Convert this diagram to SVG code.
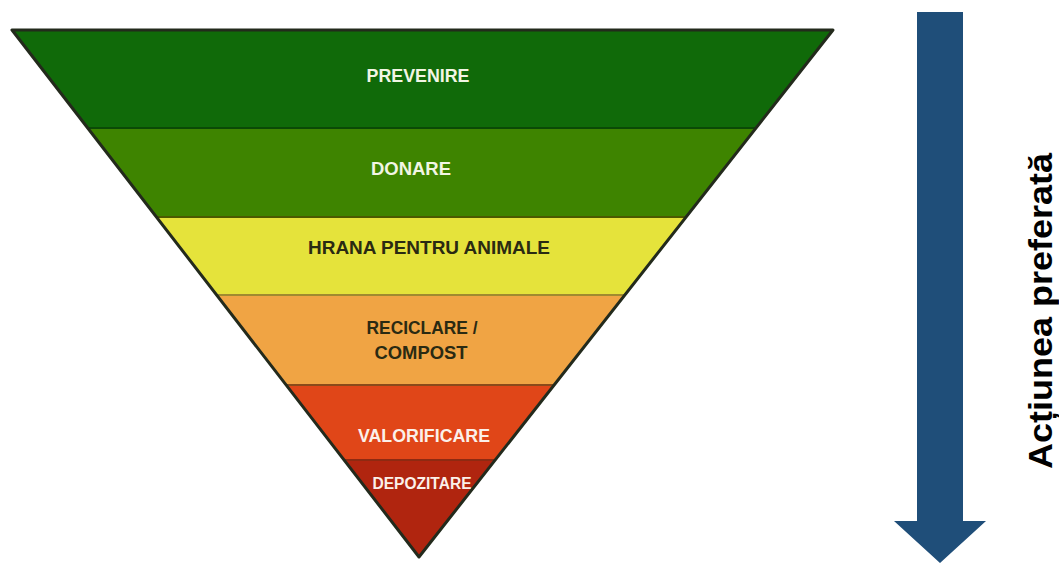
<svg xmlns="http://www.w3.org/2000/svg" width="1059" height="563" viewBox="0 0 1059 563">
  <style>
    .lbl { font-family: "Liberation Sans", Arial, sans-serif; font-weight: bold; font-size: 19px; text-anchor: middle; }
    .light { fill: #F2F6E4; }
    .dark { fill: #2A2A12; }
    .white { fill: #FBF0EA; }
    .sep { stroke-width: 2; fill: none; }
  </style>
  <rect width="1059" height="563" fill="#FFFFFF"/>
  <g id="pyramid">
    <g id="prevenire">
      <polygon points="12,30 833,30 756,128 88,128" fill="#106A09"/>
      <text class="lbl light" x="418" y="82" textLength="103" lengthAdjust="spacingAndGlyphs">PREVENIRE</text>
    </g>
    <g id="donare">
      <polygon points="88,128 756,128 686,217 157,217" fill="#3E8400"/>
      <text class="lbl light" x="411" y="175" textLength="80" lengthAdjust="spacingAndGlyphs">DONARE</text>
    </g>
    <g id="hrana">
      <polygon points="157,217 686,217 624,295 217,295" fill="#E5E33B"/>
      <text class="lbl dark" x="429" y="254" textLength="242" lengthAdjust="spacingAndGlyphs">HRANA PENTRU ANIMALE</text>
    </g>
    <g id="reciclare">
      <polygon points="217,295 624,295 553,385 287,385" fill="#F0A444"/>
      <text class="lbl dark" x="422" y="334" textLength="111" lengthAdjust="spacingAndGlyphs">RECICLARE /</text>
      <text class="lbl dark" x="421" y="359" textLength="93" lengthAdjust="spacingAndGlyphs">COMPOST</text>
    </g>
    <g id="valorificare">
      <polygon points="287,385 553,385 494,460 345,460" fill="#E04618"/>
      <text class="lbl white" x="424" y="442" textLength="132" lengthAdjust="spacingAndGlyphs">VALORIFICARE</text>
    </g>
    <g id="depozitare">
      <polygon points="345,460 494,460 419,557" fill="#B0250F"/>
      <text class="lbl white" x="422" y="489" textLength="99" lengthAdjust="spacingAndGlyphs" style="font-size:16px">DEPOZITARE</text>
    </g>
    <line class="sep" x1="88" y1="128" x2="756" y2="128" stroke="#0B4A06"/>
    <line class="sep" x1="157" y1="217" x2="686" y2="217" stroke="#4A5A00"/>
    <line class="sep" x1="217" y1="295" x2="624" y2="295" stroke="#A08A30"/>
    <line class="sep" x1="287" y1="385" x2="553" y2="385" stroke="#8A4A1A"/>
    <line class="sep" x1="345" y1="460" x2="494" y2="460" stroke="#8E2A12"/>
    <polygon points="12,30 833,30 419,557" fill="none" stroke="#232A1C" stroke-width="3" stroke-linejoin="round"/>
  </g>
  <g id="arrow">
    <polygon points="917,12 963,12 963,521 986,521 940,563 894,521 917,521" fill="#1F4E79"/>
  </g>
  <g id="arrow-label">
    <text transform="translate(1052,311) rotate(-90)" x="0" y="0" font-family="'Liberation Sans', Arial, sans-serif" font-weight="bold" font-size="34" text-anchor="middle" textLength="316" lengthAdjust="spacingAndGlyphs" fill="#000000">Acțiunea preferată</text>
  </g>
</svg>
